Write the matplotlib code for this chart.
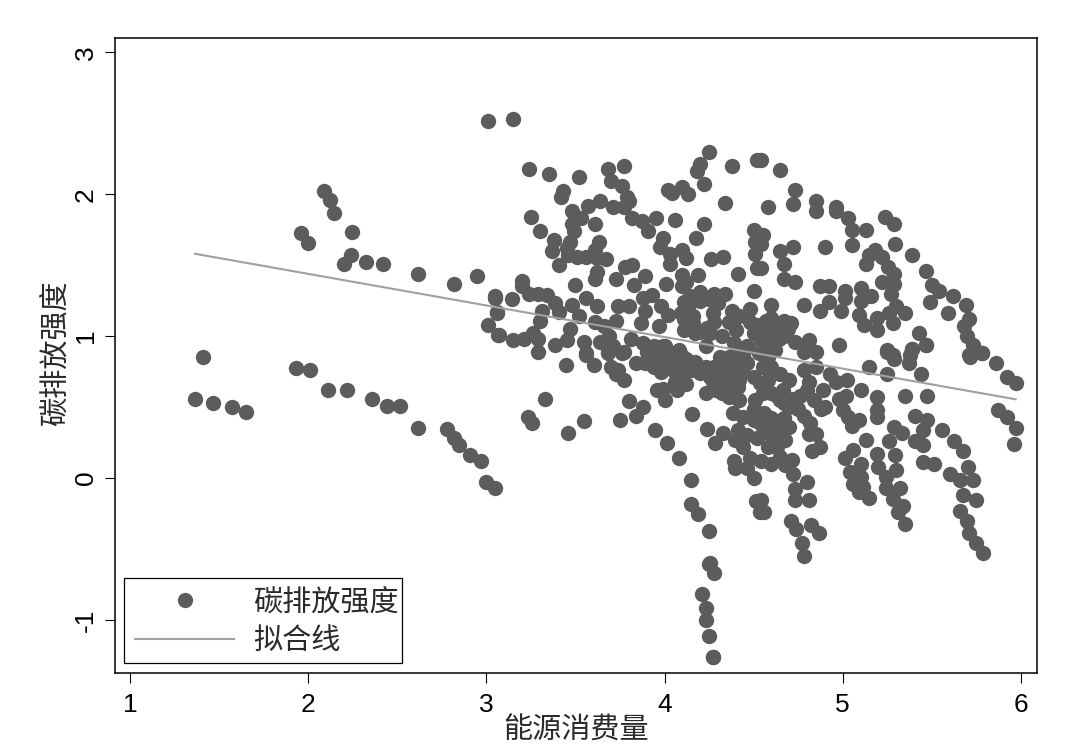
import matplotlib
matplotlib.use("Agg")
import matplotlib.pyplot as plt
from matplotlib.lines import Line2D
from matplotlib.patches import Rectangle

plt.rcParams['font.family'] = ['Liberation Sans', 'Noto Sans CJK SC', 'DejaVu Sans']
plt.rcParams['axes.unicode_minus'] = False

left_x = [1.365,1.41,1.465,1.57,1.65,1.93,2.01,2.11,2.22,2.36,2.44,2.515,2.615,2.78,2.82,2.845,2.91,2.97,3.00,3.05,
          1.96,2.00,2.09,2.12,2.145,2.245,2.20,2.24,2.325,2.42,2.615,2.82,2.95,3.01,3.15,3.05,3.06,3.01,3.065]
left_y = [0.556,0.85,0.53,0.50,0.465,0.775,0.76,0.62,0.62,0.56,0.51,0.51,0.35,0.345,0.28,0.23,0.16,0.12,-0.03,-0.07,
          1.725,1.655,2.02,1.96,1.87,1.73,1.51,1.57,1.52,1.51,1.44,1.37,1.42,2.515,2.53,1.27,1.16,1.08,1.01]

upper_mid_x = [3.24,3.35,3.52,3.68,3.77,3.70,3.76,4.25,4.20,4.18,4.22,4.38,3.43,3.42,4.02,4.04,4.10,4.13,4.34,3.79,
               3.80,3.77,3.71,3.64,3.57,3.48,3.53,3.48,3.49,3.47,3.38,3.37,3.45,3.61,3.25,3.30,3.63,3.61,3.67,3.62,
               3.56,3.51,3.46,3.41,3.62,3.61,3.73,3.78,3.82,3.82,3.875,3.905,3.95,4.06,4.22,4.175,3.99,3.975,4.03,4.10,
               4.12,4.03,4.26,4.33,4.41,4.50,4.51,4.51,4.52,4.50,4.52,3.20,3.20,3.05,3.145,3.24,3.29,3.34,3.385,3.41,
               3.48,3.56,3.62,3.50,3.74,3.80,3.89,3.83,3.93,4.01,3.88,3.89,3.98,4.10,4.19,4.10,4.11,4.20,4.20,4.28,
               4.34,4.27,4.38,4.42,4.48,4.51,4.09,4.02,3.97,3.87,3.73,3.52,3.31,3.30,3.06,3.07,3.15,3.21,3.26,3.29,
               3.29,3.385,3.45,3.47,3.55,3.61,3.66,3.69,3.64,3.71,3.68,3.77,3.81,3.56,4.16,4.11,4.20,4.255,4.32,4.40,
               4.39,4.46,4.23,3.94,3.99,3.90,4.07,4.31]
upper_mid_y = [2.18,2.14,2.12,2.18,2.20,2.09,2.06,2.30,2.21,2.16,2.07,2.20,2.02,1.98,2.03,2.01,2.05,2.00,1.94,1.98,
               1.95,1.91,1.91,1.95,1.92,1.88,1.83,1.79,1.74,1.66,1.68,1.60,1.62,1.79,1.84,1.74,1.66,1.61,1.54,1.55,
               1.56,1.56,1.57,1.50,1.45,1.40,1.40,1.49,1.50,1.83,1.81,1.74,1.83,1.82,1.79,1.69,1.69,1.63,1.58,1.61,
               1.55,1.51,1.54,1.56,1.44,1.75,1.66,1.58,1.48,1.32,2.24,1.39,1.35,1.28,1.26,1.30,1.30,1.29,1.23,1.17,
               1.22,1.27,1.21,1.36,1.21,1.21,1.42,1.36,1.29,1.37,1.27,1.18,1.21,1.43,1.43,1.35,1.24,1.31,1.25,1.30,
               1.30,1.16,1.18,1.14,1.19,1.07,1.16,1.15,1.07,1.09,1.11,1.14,1.18,1.11,1.17,1.01,0.97,0.98,1.02,0.98,
               0.89,0.94,0.97,1.05,0.96,1.10,1.07,1.00,0.96,0.93,0.89,0.89,0.98,0.88,1.09,1.04,1.03,1.02,1.00,1.04,
               0.95,0.93,0.93,0.93,0.93,0.89,0.85,0.85]

upper_right_x = [4.54,4.65,4.73,4.72,4.58,4.85,4.85,4.96,4.96,5.03,5.05,5.13,5.05,4.90,5.235,5.29,5.295,5.39,5.465,5.18,
                 5.15,5.13,5.22,5.255,5.29,5.22,5.29,5.27,5.50,5.54,5.49,5.62,5.69,5.59,5.71,5.68,5.695,5.73,5.78,5.71,
                 5.86,4.55,4.54,4.65,4.72,4.67,4.54,4.67,4.73,4.87,4.92,5.01,5.10,5.16,5.105,4.92,4.87,4.78,4.60,4.99,
                 5.01,5.09,5.12,5.19,5.19,5.26,5.30,5.35,5.28,5.43,5.465,5.39,4.98,5.25,5.28,5.38,4.81,4.73,4.85,4.78,
                 4.58,4.63,4.67,4.71,4.57,4.59,4.535,4.61,4.55,4.67,4.60,4.52,4.56,4.64,4.58,4.62,4.54,4.69,4.50,4.48]
upper_right_y = [2.24,2.17,2.03,1.93,1.91,1.95,1.88,1.91,1.88,1.83,1.75,1.75,1.64,1.63,1.84,1.79,1.65,1.57,1.46,1.61,
                 1.57,1.51,1.56,1.49,1.44,1.38,1.37,1.30,1.36,1.32,1.24,1.28,1.22,1.16,1.12,1.07,1.00,0.94,0.88,0.87,
                 0.81,1.71,1.65,1.60,1.63,1.51,1.48,1.40,1.38,1.35,1.35,1.32,1.34,1.28,1.25,1.24,1.18,1.22,1.22,1.18,
                 1.27,1.15,1.08,1.13,1.04,1.16,1.21,1.16,1.09,1.02,0.94,0.91,0.94,0.90,0.87,0.87,0.97,0.96,0.89,0.89,
                 1.04,1.02,1.11,1.09,1.11,0.95,1.04,1.07,0.99,1.00,1.13,1.08,1.07,0.98,1.00,1.04,0.97,1.05,1.02,1.10]

lower_mid_x = [3.445,3.56,3.605,3.70,3.74,3.73,3.77,3.84,3.68,3.76,3.33,3.80,3.88,3.84,3.75,3.235,3.255,3.55,3.46,3.945,
               4.015,4.08,4.15,4.15,4.19,4.25,4.255,3.955,3.99,4.00,4.07,4.12,4.155,4.24,4.33,4.285,4.23,4.32,4.36,4.42,
               4.385,4.41,4.395,4.44,4.39,4.395,4.48,4.46,4.50,4.515,4.535,4.51,4.50,3.89,3.94,3.98,3.97,4.07,4.09,4.14,
               4.20,4.255,4.32,4.36,4.40,4.46,4.50,4.33,4.37,4.405,3.92,3.95,4.03,4.05,4.10,4.17,4.23,4.28,4.30,4.34,
               4.38,4.42,4.35,4.31,4.27,4.33,4.37,4.41,4.29,4.34,4.39,4.36,4.44,4.30,4.33,4.37,4.40,4.35,4.31,4.38,
               4.21,4.23,4.23,4.25,4.27,4.27,4.25,4.28]
lower_mid_y = [0.80,0.87,0.80,0.78,0.76,0.73,0.69,0.81,0.88,0.88,0.56,0.54,0.50,0.44,0.41,0.43,0.385,0.40,0.32,0.34,
               0.25,0.14,-0.01,-0.18,-0.25,-0.37,-0.60,0.62,0.63,0.55,0.62,0.66,0.45,0.345,0.315,0.245,0.60,0.60,0.57,0.55,
               0.46,0.34,0.27,0.22,0.12,0.07,0.14,0.07,0.00,-0.16,-0.24,0.55,0.41,0.81,0.78,0.75,0.85,0.81,0.74,0.80,
               0.74,0.71,0.81,0.85,0.78,0.81,0.71,0.71,0.67,0.64,0.88,0.87,0.88,0.76,0.86,0.82,0.78,0.78,0.66,0.66,
               0.66,0.69,0.76,0.74,0.68,0.61,0.60,0.64,0.62,0.70,0.73,0.80,0.75,0.72,0.78,0.72,0.68,0.64,0.68,0.62,
               -0.82,-0.915,-1.0,-1.11,-1.26,-1.26,-0.605,-0.67]

lower_right_x = [5.25,5.29,5.39,5.37,5.465,5.44,5.715,5.78,5.92,5.97,5.15,5.25,5.35,5.47,5.87,5.92,5.97,5.96,5.555,5.625,
                 5.675,5.70,5.60,5.66,5.73,5.675,5.75,5.66,5.695,5.71,5.75,5.785,5.405,5.47,5.45,5.405,5.45,5.45,5.51,5.29,
                 5.335,5.26,5.295,5.30,5.32,5.19,5.19,5.19,5.13,5.06,5.01,5.19,5.20,5.24,5.24,5.28,5.34,5.31,5.35,5.10,
                 5.04,5.10,5.06,5.115,5.09,5.15,4.98,5.02,5.105,5.00,5.03,5.09,5.05,4.88,5.025,4.96,4.89,4.81,4.78,4.85,
                 4.93,4.70,4.665,4.60,4.65,4.58,4.55,4.65,4.72,4.75,4.78,4.815,4.81,4.85,4.87,4.83,4.655,4.675,4.59,4.63,
                 4.65,4.715,4.675,4.72,4.80,4.73,4.73,4.81,4.56,4.54,4.71,4.74,4.82,4.865,4.77,4.78,4.535,4.56,4.58,4.535]
lower_right_y = [0.89,0.84,0.91,0.81,0.94,0.73,0.85,0.88,0.71,0.67,0.78,0.73,0.58,0.58,0.48,0.43,0.35,0.24,0.34,0.26,
                 0.19,0.08,0.03,-0.01,-0.01,-0.12,-0.155,-0.23,-0.30,-0.39,-0.46,-0.525,0.44,0.41,0.34,0.26,0.23,0.11,0.10,0.36,
                 0.32,0.26,0.16,0.06,-0.07,0.57,0.48,0.43,0.27,0.20,0.145,0.17,0.08,0.01,-0.07,-0.15,-0.20,-0.24,-0.32,0.10,
                 0.045,0.01,-0.04,-0.06,-0.10,-0.14,0.56,0.58,0.62,0.48,0.43,0.41,0.37,0.49,0.69,0.68,0.62,0.68,0.76,0.78,
                 0.73,0.69,0.62,0.78,0.73,0.69,0.60,0.55,0.56,0.49,0.44,0.385,0.31,0.31,0.22,0.19,0.31,0.27,0.31,0.22,
                 0.15,0.13,0.09,0.03,-0.03,-0.08,-0.155,-0.155,-0.24,-0.155,-0.30,-0.36,-0.33,-0.39,-0.46,-0.55,0.385,0.34,0.88,0.67]

dense_x = [3.88,3.92,3.96,4.00,3.98,3.93,4.02,4.05,4.08,4.12,4.15,4.18,4.10,4.06,4.11,4.13,4.14,4.12,4.16,4.24,
           4.28,4.17,4.30,4.25,4.36,4.40,4.44,4.47,4.53,4.58,4.62,4.55,4.60,4.63,4.67,4.70,4.56,4.50,4.44,4.60,
           4.63,4.67,4.70,4.46,4.52,4.58,4.54,4.60,4.80,4.76,4.84,4.90]
dense_y = [0.95,0.92,0.90,0.93,0.85,0.82,0.80,0.84,0.90,0.84,0.76,0.80,0.72,0.68,1.12,1.20,1.28,1.38,1.14,1.06,
           1.10,1.02,1.23,1.26,1.10,0.92,0.86,0.92,0.88,0.85,0.90,0.78,0.60,0.58,0.53,0.50,0.46,0.49,0.43,0.42,
           0.36,0.42,0.36,0.30,0.28,0.22,0.12,0.10,0.62,0.58,0.55,0.50]

fit_x = [1.365, 5.97]
fit_y = [1.58, 0.555]

x_ticks = [1, 2, 3, 4, 5, 6]
y_ticks = [-1, 0, 1, 2, 3]
x_label = "能源消费量"
y_label = "碳排放强度"
legend_labels = ["碳排放强度", "拟合线"]

W, H = 1076, 752
fig = plt.figure(figsize=(W / 100, H / 100), dpi=100, facecolor="white")
ax = fig.add_axes([115 / W, 1 - 673 / H, (1037 - 115) / W, (673 - 38) / H])

POINT = "#5c5c5c"
LINE = "#a0a0a0"
CJK = ["Noto Sans CJK SC", "DejaVu Sans"]
for xs, ys in [(left_x, left_y), (upper_mid_x, upper_mid_y), (upper_right_x, upper_right_y),
               (lower_mid_x, lower_mid_y), (lower_right_x, lower_right_y), (dense_x, dense_y)]:
    ax.scatter(xs, ys, s=122, color=POINT, linewidths=0, zorder=2)
ax.plot(fit_x, fit_y, color=LINE, lw=1.5, zorder=3)

ax.set_xlim(0.916, 6.09)
ax.set_ylim(-1.373, 3.10)
ax.set_xticks(x_ticks)
ax.set_yticks(y_ticks)
ax.tick_params(axis="both", length=7.5, width=0.8, labelsize=19)
ax.tick_params(axis="x", pad=7)
ax.tick_params(axis="y", pad=5)
for t in ax.get_yticklabels():
    t.set_rotation(90)
    t.set_va("center")
for s in ax.spines.values():
    s.set_linewidth(1.1)

fig.text(576 / W, 1 - 731 / H, x_label, ha="center", va="center", fontsize=21,
         family=CJK, color="#2a2a2a")
fig.text(56 / W, 1 - 353 / H, y_label, ha="center", va="center", rotation=90, fontsize=21,
         family=CJK, color="#2a2a2a")

frame = Rectangle((124 / W, 1 - 663 / H), (402 - 124) / W, (663 - 578) / H, transform=fig.transFigure,
                  facecolor="white", edgecolor="black", linewidth=0.9, zorder=5)
ax.add_patch(frame)

handles = [Line2D([], [], ls="none", marker="o", ms=11, mfc=POINT, mec="none"),
           Line2D([], [], color=LINE, lw=1.5)]
leg = ax.legend(handles, legend_labels, loc="lower left",
                bbox_to_anchor=((126.3 - 115) / (1037 - 115), (673 - 665) / (673 - 38)),
                borderaxespad=0, handlelength=3.4, handletextpad=0.65,
                borderpad=0.3, labelspacing=0.3, frameon=False,
                prop={"family": CJK, "size": 21})
leg.set_zorder(6)
for t in leg.get_texts():
    t.set_color("#2a2a2a")

fig.savefig("out.png", dpi=100, facecolor="white")
